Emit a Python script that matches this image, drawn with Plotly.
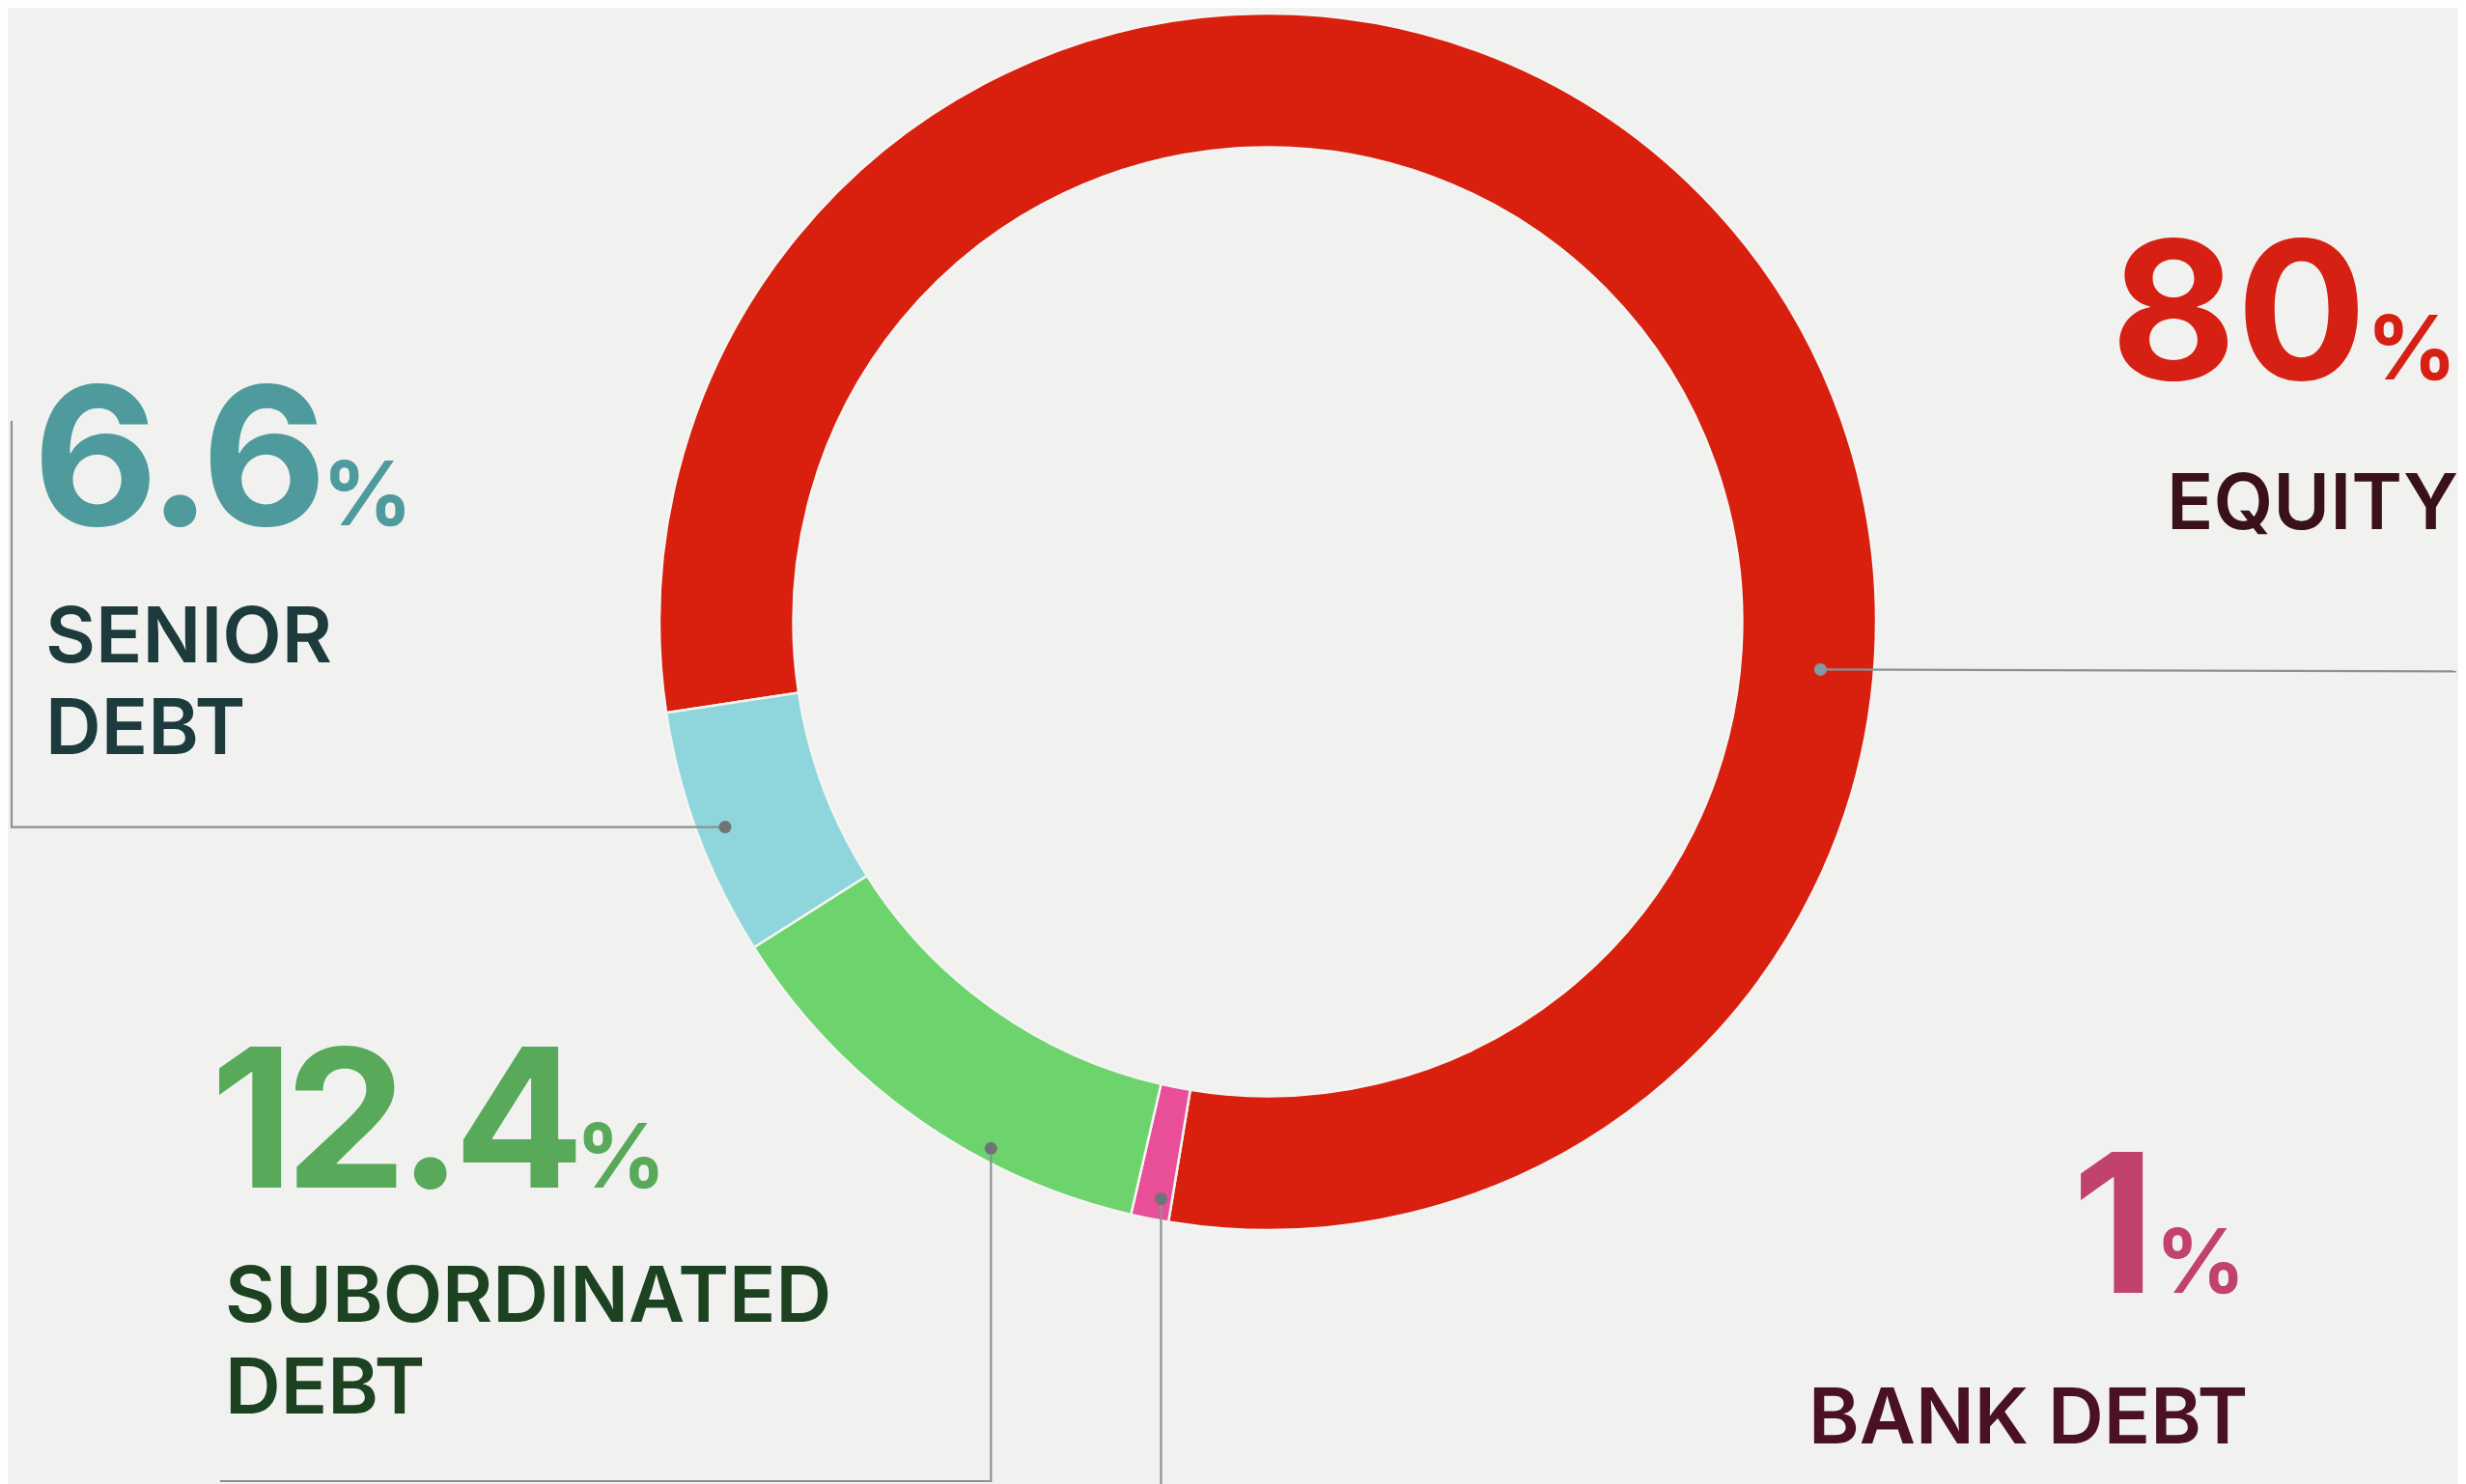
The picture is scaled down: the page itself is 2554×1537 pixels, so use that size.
import math
import plotly.graph_objects as go

# ---------------- data ----------------
categories = ["EQUITY", "BANK DEBT", "SUBORDINATED DEBT", "SENIOR DEBT"]
shares = [80, 1, 12.4, 6.6]
value_labels = ["80", "1", "12.4", "6.6"]
label_lines = [["EQUITY"], ["BANK DEBT"], ["SUBORDINATED", "DEBT"], ["SENIOR", "DEBT"]]

# ---------------- style ----------------
slice_colors = ["#d9200f", "#e84f98", "#6dd36c", "#8fd6dc"]
number_colors = ["#d52013", "#c2426f", "#58a95a", "#4f9a9c"]
label_colors = ["#3b1119", "#4a1025", "#1d4221", "#1d3b3c"]
number_tracking = [0, 0, -9, -5]   # px letter-spacing of the big numbers
BG = "#f1f2f0"
FONT = "Inter"
NUM_SIZE, PCT_SIZE, LAB_SIZE = 200, 92, 80

W, H = 2554, 1537
CX, CY, R_OUT, HOLE = 1305, 636, 630, 0.78
ROTATION = 261.4
dot_fraction = [0.672, 0.3, 0.33, 0.49]     # angular position of leader dot inside each slice
dot_radial = [0.6, 0.84, 0.9, 0.79]          # radial position (0 inner edge, 1 outer edge)

def px(x):
    return x / W

def py(y):
    return 1 - y / H

fig = go.Figure(go.Pie(
    labels=categories, values=shares, sort=False, direction="clockwise",
    rotation=ROTATION, hole=HOLE, textinfo="none", hoverinfo="label+percent",
    marker=dict(colors=slice_colors, line=dict(color="#f4f5f3", width=2.5)),
    domain=dict(x=[px(CX - R_OUT), px(CX + R_OUT)], y=[py(CY + R_OUT), py(CY - R_OUT)]),
    showlegend=False,
))

# leader dots computed from the pie geometry
total = sum(shares)
r_in = R_OUT * HOLE
dots = []
start = ROTATION
for v, f, rf in zip(shares, dot_fraction, dot_radial):
    a = math.radians(start + 360 * v / total * f)
    r = r_in + (R_OUT - r_in) * rf
    dots.append((CX + r * math.sin(a), CY - r * math.cos(a)))
    start += 360 * v / total

# leader line routes (pixel space, after the dot)
routes = [
    lambda d: [(2536, d[1] + 2)],
    lambda d: [(d[0], 1537)],
    lambda d: [(d[0], 1526), (220, 1526)],
    lambda d: [(4, d[1]), (4, 428)],
]

shapes = []
for d, route in zip(dots, routes):
    pts = [d] + route(d)
    path = "M " + " L ".join(f"{px(x)},{py(y)}" for x, y in pts)
    shapes.append(dict(type="path", xref="paper", yref="paper", path=path,
                       line=dict(color="#8c9193", width=2.2)))
for i, d in enumerate(dots):
    rr = 6.5
    shapes.append(dict(type="circle", xref="paper", yref="paper",
                       x0=px(d[0] - rr), x1=px(d[0] + rr), y0=py(d[1] + rr), y1=py(d[1] - rr),
                       fillcolor="#7f9aa0" if i == 0 else "#6f7577", line=dict(width=0)))

# text placement: (number x px, label x px, xanchor, number centre y, label line centres y)
placements = [
    (2538, 2540, "right", 312, [510]),
    (2320, 2322, "right", 1258, [1457]),
    (208, 223, "left", 1149, [1331, 1426]),
    (24, 37, "left", 463, [648, 743]),
]

annotations = []
for i, (nx, lx, xa, ny, lys) in enumerate(placements):
    annotations.append(dict(
        xref="paper", yref="paper", x=px(nx), y=py(ny), xanchor=xa, yanchor="middle",
        showarrow=False, height=round(NUM_SIZE * 0.84), valign="middle",
        text=(f"<span style='letter-spacing:{number_tracking[i]}px'>{value_labels[i]}</span>"
              f"<span style='font-size:{PCT_SIZE}px'>%</span>"),
        font=dict(family=FONT, size=NUM_SIZE, color=number_colors[i], weight=700),
    ))
    multi = len(label_lines[i]) > 1
    for line, ly in zip(label_lines[i], lys):
        ann = dict(
            xref="paper", yref="paper", x=px(lx), y=py(ly), xanchor=xa, yanchor="middle",
            showarrow=False, text=line,
            font=dict(family=FONT, size=LAB_SIZE, color=label_colors[i], weight=600),
        )
        if multi:
            ann.update(height=round(LAB_SIZE * 0.9), valign="middle")
        annotations.append(ann)

fig.update_layout(
    width=W, height=H, margin=dict(l=0, r=0, t=0, b=0),
    paper_bgcolor=BG, plot_bgcolor=BG,
    shapes=shapes, annotations=annotations,
)

fig.write_html("out.html")
